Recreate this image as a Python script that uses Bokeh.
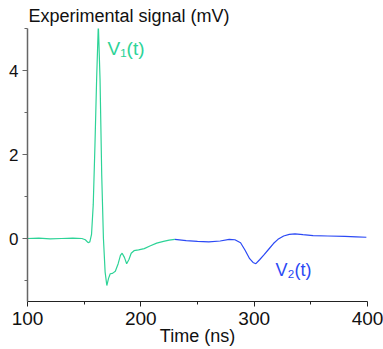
from bokeh.plotting import figure
from bokeh.models import FixedTicker, Range1d, Label
from bokeh.embed import file_html
from bokeh.resources import INLINE

# Green signal V1(t)
t1 = [100, 110, 120, 130, 140, 148, 151, 153.5, 155, 156.5, 158, 159.5, 161, 162.5, 164,
      165.5, 167, 168.5, 170, 171.5, 173, 175, 177.5, 180, 182, 183.5, 185.5, 187.5,
      189.5, 191.5, 194, 198, 203, 208, 214, 220, 225, 230]
v1 = [0.0, 0.01, -0.01, 0.0, 0.01, 0.0, -0.03, -0.1, -0.08, 0.1, 0.8, 2.2, 3.8, 5.1, 3.8,
      1.5, 0.0, -0.8, -1.12, -0.95, -0.84, -0.83, -0.78, -0.6, -0.4, -0.35, -0.45, -0.6,
      -0.5, -0.35, -0.29, -0.27, -0.24, -0.18, -0.11, -0.07, -0.04, -0.02]

# Blue signal V2(t)
t2 = [230, 240, 250, 260, 270, 278, 283, 288, 292, 296, 299, 301.5, 305, 309, 313, 317,
      321, 326, 331, 336, 343, 352, 365, 380, 390, 399]
v2 = [-0.02, -0.05, -0.07, -0.08, -0.06, -0.02, -0.03, -0.1, -0.28, -0.48, -0.57, -0.6,
      -0.5, -0.38, -0.25, -0.12, -0.02, 0.06, 0.1, 0.11, 0.09, 0.07, 0.06, 0.05, 0.04, 0.03]

x_major = [100, 200, 300, 400]
x_minor = [150, 250, 350]
y_major = [0, 2, 4]
y_minor = [-1, 1, 3, 5]

GREEN = "#2dd397"
BLUE = "#2b49f5"
FONT = "Liberation Sans"

p = figure(width=383, height=349, output_backend="svg", toolbar_location=None,
           x_range=Range1d(100, 400), y_range=Range1d(-1.5, 5),
           title="Experimental signal (mV)",
           min_border_left=27, min_border_right=16, min_border_top=28, min_border_bottom=48)
p.outline_line_color = None
p.xgrid.visible = False
p.ygrid.visible = False

p.title.text_font = FONT
p.title.text_font_size = "18px"
p.title.text_font_style = "normal"
p.title.text_color = "#111111"
p.title.align = "left"
p.title.standoff = 6
p.title.offset = 1

p.line(t1, v1, color=GREEN, line_width=1.2)
p.line(t2, v2, color=BLUE, line_width=1.2)

p.xaxis.ticker = FixedTicker(ticks=x_major, minor_ticks=x_minor)
p.yaxis.ticker = FixedTicker(ticks=y_major, minor_ticks=y_minor)

for ax in (p.xaxis, p.yaxis):
    ax.major_tick_out = 5
    ax.major_tick_in = 0
    ax.minor_tick_out = 3
    ax.minor_tick_in = 0
    ax.major_label_text_font = FONT
    ax.major_label_text_color = "#111111"

p.yaxis.axis_line_color = "#666666"
p.yaxis.major_tick_line_color = "#666666"
p.yaxis.minor_tick_line_color = "#666666"
p.yaxis.axis_line_width = 1.5
p.yaxis.major_label_text_font_size = "17px"
p.yaxis.major_label_standoff = 4

p.xaxis.axis_line_color = "#222222"
p.xaxis.major_tick_line_color = "#222222"
p.xaxis.minor_tick_line_color = "#222222"
p.xaxis.axis_line_width = 1.2
p.xaxis.major_label_text_font_size = "19px"
p.xaxis.major_label_standoff = 5
p.xaxis.axis_label = "Time (ns)"
p.xaxis.axis_label_text_font = FONT
p.xaxis.axis_label_text_font_size = "18px"
p.xaxis.axis_label_text_font_style = "normal"
p.xaxis.axis_label_text_color = "#111111"
p.xaxis.axis_label_standoff = -2

p.add_layout(Label(x=170.6, y=4.52, text="V\u2081(t)", text_font=FONT,
                   text_font_size="19px", text_baseline="middle", text_color=GREEN))
p.add_layout(Label(x=318.9, y=-0.74, text="V\u2082(t)", text_font=FONT,
                   text_font_size="18px", text_baseline="middle", text_color=BLUE))

open("out.html", "w").write(file_html(p, INLINE))
